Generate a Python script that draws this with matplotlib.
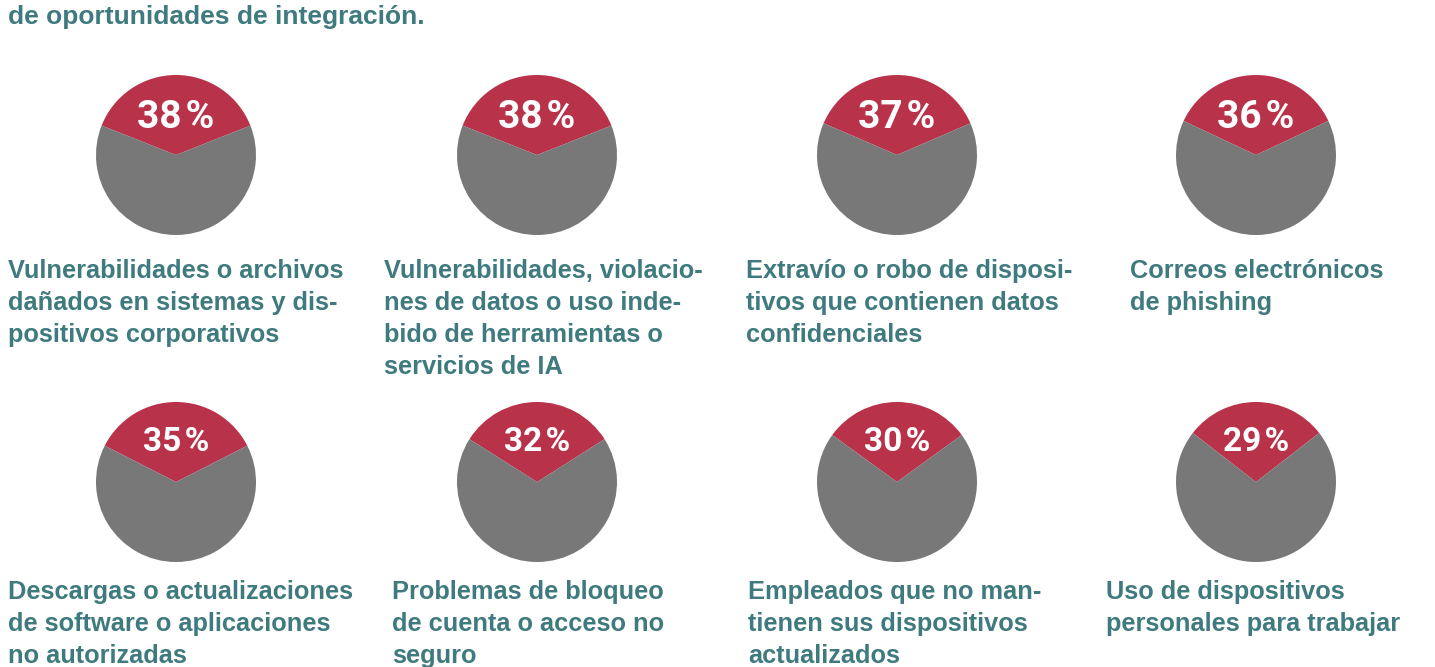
import matplotlib
matplotlib.use("Agg")
import matplotlib.pyplot as plt

W, H = 1435, 667
values = [38, 38, 37, 36, 35, 32, 30, 29]
labels = [
    "Vulnerabilidades o archivos\ndañados en sistemas y dis-\npositivos corporativos",
    "Vulnerabilidades, violacio-\nnes de datos o uso inde-\nbido de herramientas o\nservicios de IA",
    "Extravío o robo de disposi-\ntivos que contienen datos\nconfidenciales",
    "Correos electrónicos\nde phishing",
    "Descargas o actualizaciones\nde software o aplicaciones\nno autorizadas",
    "Problemas de bloqueo\nde cuenta o acceso no\nseguro",
    "Empleados que no man-\ntienen sus dispositivos\nactualizados",
    "Uso de dispositivos\npersonales para trabajar",
]
title = "de oportunidades de integración."

RED = "#B8324A"
GREY = "#787878"
TEAL = "#3F7A7E"

fig = plt.figure(figsize=(W / 100, H / 100), dpi=100)
fig.patch.set_facecolor("white")

centers_x = [176, 537, 897, 1256]
centers_y = [155, 482]
label_x = [[8, 384, 746, 1130], [8, 392, 748, 1106]]
label_y = [259, 580]
r = 80

fig.text(8 / W, 1 - 17 / H, title, color=TEAL, fontsize=19, fontweight="bold",
         family="Liberation Sans", va="center", ha="left")

for i, v in enumerate(values):
    row, col = divmod(i, 4)
    cx, cy = centers_x[col], centers_y[row]
    ax = fig.add_axes([(cx - r) / W, 1 - (cy + r) / H, 2 * r / W, 2 * r / H])
    ax.pie([v, 100 - v], colors=[RED, GREY], startangle=90 - v * 1.8,
           counterclock=True, wedgeprops=dict(linewidth=0))
    ax.set_xlim(-1, 1)
    ax.set_ylim(-1, 1)
    ax.set_aspect("auto")
    ax.axis("off")
    fs = 28 if row == 0 else 24
    base = 128 if row == 0 else 451
    fig.text(cx / W, 1 - base / H, f"{v}\u200a%", color="white", fontsize=fs,
             fontweight="bold", family="Roboto",
             ha="center", va="baseline")
    fig.text(label_x[row][col] / W, 1 - label_y[row] / H, labels[i], color=TEAL,
             fontsize=18.3, fontweight="bold", family="Liberation Sans",
             ha="left", va="top", linespacing=1.42)

fig.savefig("out.png", dpi=100)
